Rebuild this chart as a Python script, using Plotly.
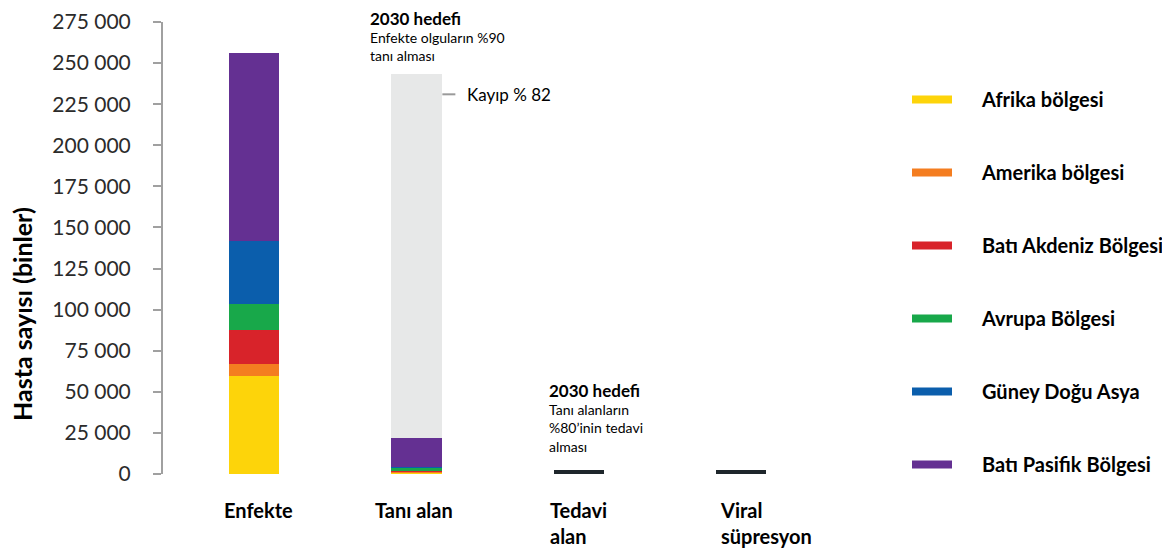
import plotly.graph_objects as go

categories = ["Enfekte", "Tanı alan", "Tedavi alan", "Viral süpresyon"]
category_labels = ["Enfekte", "Tanı alan", "Tedavi<br>alan", "Viral<br>süpresyon"]

regions = ["Afrika bölgesi", "Amerika bölgesi", "Batı Akdeniz Bölgesi",
           "Avrupa Bölgesi", "Güney Doğu Asya", "Batı Pasifik Bölgesi"]
region_colors = ["#FDD40A", "#F47D20", "#D8232A", "#18A84A", "#0B5EAC", "#643092"]

# values in thousands (binler)
afrika = [59500, 1000, 0, 0]
amerika = [7300, 800, 0, 0]
bati_akdeniz = [21100, 300, 0, 0]
avrupa = [15300, 1600, 0, 0]
guney_dogu_asya = [38500, 600, 0, 0]
bati_pasifik = [114500, 17500, 0, 0]
series = [afrika, amerika, bati_akdeniz, avrupa, guney_dogu_asya, bati_pasifik]

kayip = [0, 221700, 0, 0]          # undiagnosed gap (light gray)
hedef = [0, 0, 2400, 2400]         # target markers (dark lines)

y_ticks = [0, 25000, 50000, 75000, 100000, 125000, 150000, 175000, 200000, 225000, 250000, 275000]

FONT = "Lato"
W, H = 1162, 544   # page body has an 8px margin

fig = go.Figure()
for name, vals, col in zip(regions, series, region_colors):
    fig.add_trace(go.Bar(x=categories, y=vals, name=name, marker_color=col,
                         marker_line_width=0, showlegend=False, legendgroup=name))
fig.add_trace(go.Bar(x=categories, y=kayip, marker_color="#E7E8E8", marker_line_width=0,
                     showlegend=False))
fig.add_trace(go.Bar(x=categories, y=hedef, marker_color="#1E262B", marker_line_width=0,
                     showlegend=False))
# legend entries as line swatches
for name, col in zip(regions, region_colors):
    fig.add_trace(go.Scatter(x=[None], y=[None], mode="lines", name="\u2003\u2002" + name,
                             line=dict(color=col, width=8), legendgroup=name))

annotations = []
shifts = [4, -2, -31, -23]
anchors = ["center", "center", "left", "left"]
for cat, lab, sh, anc in zip(categories, category_labels, shifts, anchors):
    annotations.append(dict(x=cat, y=0, xref="x", yref="y", text=lab, showarrow=False,
                            xanchor=anc, yanchor="top", align="left", yshift=-22, xshift=sh,
                            font=dict(family=FONT, size=20, color="#000000", weight="bold")))

annotations += [
    dict(x=-0.214, y=0.354, xref="paper", yref="paper", text="<b>Hasta sayısı (binler)</b>",
         showarrow=False, textangle=-90, xanchor="center", yanchor="middle",
         font=dict(family=FONT, size=25, color="#000000")),
    dict(x=1, y=275000, xref="x", yref="y", xshift=-48, yshift=16,
         text="<b style='font-size:17px'>2030 hedefi</b><br>Enfekte olguların %90<br>tanı alması",
         showarrow=False, xanchor="left", yanchor="top", align="left",
         font=dict(family=FONT, size=14, color="#000000")),
    dict(x=1.16, y=231000, xref="x", yref="y", xshift=23,
         text="Kayıp % 82", showarrow=False, xanchor="left", yanchor="middle",
         font=dict(family=FONT, size=17, color="#000000")),
    dict(x=2, y=58500, xref="x", yref="y", xshift=-32,
         text="<b style='font-size:17px'>2030 hedefi</b><br>Tanı alanların<br>%80’inin tedavi<br>alması",
         showarrow=False, xanchor="left", yanchor="top", align="left",
         font=dict(family=FONT, size=14, color="#000000")),
]

fig.update_layout(
    width=W, height=H,
    margin=dict(l=155, r=348, t=14, b=78, autoexpand=False),
    paper_bgcolor="white", plot_bgcolor="white",
    barmode="stack", bargap=0.69,
    separators=". ",
    showlegend=True,
    legend=dict(xref="container", yref="container", x=899/W, y=1 - 72/H,
                xanchor="left", yanchor="top", tracegroupgap=44, itemwidth=40,
                maxheight=530,
                font=dict(family=FONT, size=20, color="#000000", weight="bold"),
                bgcolor="rgba(0,0,0,0)"),
    annotations=annotations,
    shapes=[dict(type="line", xref="x", yref="y", xsizemode="pixel", xanchor=1.16,
                 x0=0, x1=13, y0=231000, y1=231000, line=dict(color="#9A9A9A", width=2))],
    font=dict(family=FONT),
)
fig.update_xaxes(range=[-0.562, 3.5], showticklabels=False, showline=False, showgrid=False,
                 zeroline=False, ticks="")
fig.update_yaxes(range=[0, 275000], tickvals=y_ticks, tickformat=",d", showgrid=False,
                 zeroline=False, showline=True, linecolor="#A0A0A0", linewidth=2,
                 ticks="outside", ticklen=8, tickcolor="#A0A0A0", tickwidth=2,
                 ticklabelstandoff=18,
                 tickfont=dict(family=FONT, size=21, color="#2B2B2B"))

fig.write_html("out.html")
